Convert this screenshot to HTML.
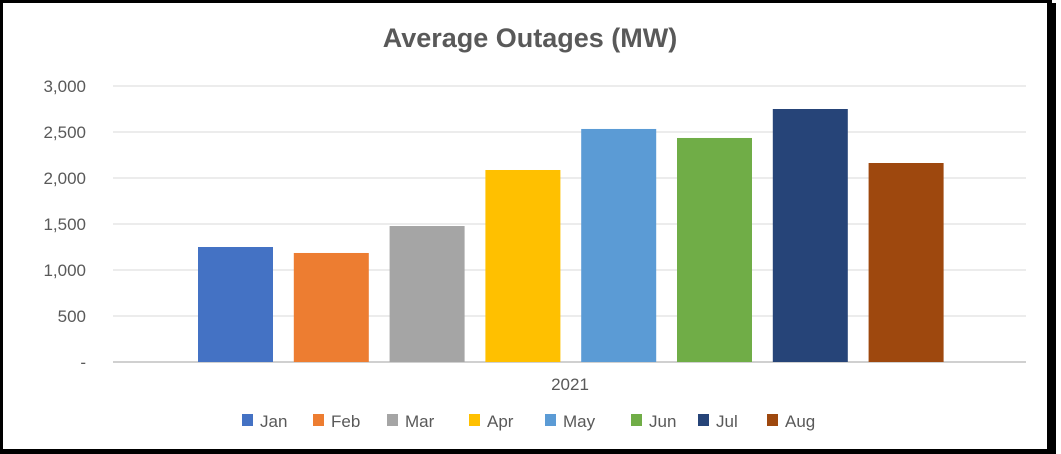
<!DOCTYPE html>
<html><head><meta charset="utf-8"><style>
body{margin:0;width:1061px;height:454px;background:#fff;overflow:hidden;font-family:"Liberation Sans",sans-serif}
#frame{position:absolute;left:0;top:0;width:1044px;height:446px;border:3px solid #000;border-right-width:5px;border-bottom-width:5px;box-shadow:4px 3px 0 #000}
</style></head><body>
<div id="frame"></div>
<svg id="chart" width="1061" height="454" style="position:absolute;left:0;top:0">
<text x="530" y="47" text-anchor="middle" font-size="27" font-weight="bold" fill="#595959">Average Outages (MW)</text>
<g id="grid"></g><g id="bars"></g>
<text x="570" y="390" text-anchor="middle" font-size="17" fill="#595959">2021</text>
<g id="legend"></g>
</svg>
<script>
const categories=["Jan","Feb","Mar","Apr","May","Jun","Jul","Aug"];
const values=[1250,1185,1478,2087,2533,2435,2750,2163];
const colors=["#4472c4","#ed7d31","#a5a5a5","#ffc000","#5b9bd5","#70ad47","#264478","#9e480e"];
const ticks=[0,500,1000,1500,2000,2500,3000];
const tickLabels=["-","500","1,000","1,500","2,000","2,500","3,000"];
const NS="http://www.w3.org/2000/svg";
const y=v=>362-v*0.092;
const x=i=>198+i*95.8;
const grid=document.getElementById('grid'),bars=document.getElementById('bars'),leg=document.getElementById('legend');
function mk(tag,attrs,parent){const e=document.createElementNS(NS,tag);for(const k in attrs)e.setAttribute(k,attrs[k]);parent.appendChild(e);return e;}
ticks.forEach((t,i)=>{
 const l=mk('line',{x1:113,x2:1026,y1:y(t),y2:y(t),stroke:t===0?'#d0d0d0':'#d9d9d9','stroke-width':t===0?2:1},grid);
 
 
 const tx=mk('text',{x:86,y:y(t)+6,'text-anchor':'end','font-size':17,fill:'#595959'},grid);
 tx.textContent=tickLabels[i];
 
 
});
values.forEach((v,i)=>{
 const r=mk('rect',{x:x(i),y:y(v),width:75,height:362-y(v),fill:colors[i]},bars);
 
 
});
const lx=[242,313,387,469,545,631,698,767];
categories.forEach((c,i)=>{
 const g=mk('g',{},leg);
 
 
 mk('rect',{x:lx[i],y:414,width:11,height:12,fill:colors[i]},g);
 const t=mk('text',{x:lx[i]+18,y:427,'font-size':17,fill:'#595959'},g);
 t.textContent=c;
});
</script>
</body></html>
